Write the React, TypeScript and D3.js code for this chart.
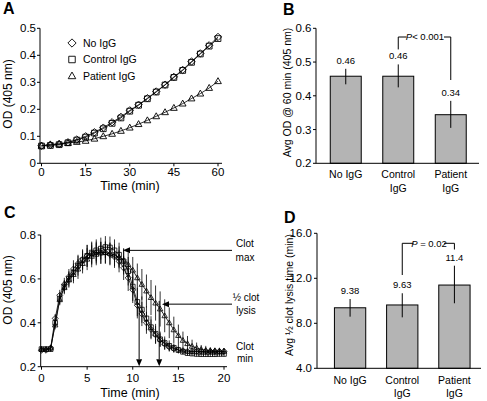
import React from "react";
import * as d3 from "d3";

// ---------- Panel A data ----------
const timeA = [0, 3, 6, 9, 12, 15, 18, 21, 24, 27, 30, 33, 36, 39, 42, 45, 48, 51, 54, 57, 60];
const noIgGA = [0.065, 0.068, 0.071, 0.078, 0.088, 0.1, 0.115, 0.132, 0.152, 0.172, 0.196, 0.217, 0.241, 0.266, 0.291, 0.32, 0.346, 0.377, 0.407, 0.437, 0.468];
const controlA = [0.064, 0.066, 0.069, 0.076, 0.086, 0.097, 0.112, 0.128, 0.148, 0.168, 0.193, 0.215, 0.239, 0.264, 0.29, 0.318, 0.344, 0.374, 0.405, 0.434, 0.462];
const patientA = [0.065, 0.07, 0.072, 0.075, 0.079, 0.083, 0.091, 0.1, 0.109, 0.12, 0.132, 0.145, 0.159, 0.174, 0.189, 0.205, 0.221, 0.24, 0.258, 0.279, 0.304];
const xTicksA = [0, 15, 30, 45, 60];
const yTicksA = [0, 0.1, 0.2, 0.3, 0.4, 0.5];
const legendA = ["No IgG", "Control IgG", "Patient IgG"];

// ---------- Panel B data ----------
const groups = ["No IgG", "Control IgG", "Patient IgG"];
const groupLines = [["No IgG"], ["Control", "IgG"], ["Patient", "IgG"]];
const odB = [0.458, 0.458, 0.344];
const odBLow = [0.434, 0.425, 0.305];
const odBHigh = [0.48, 0.493, 0.385];
const odBLabels = ["0.46", "0.46", "0.34"];
const yTicksB = [0.2, 0.3, 0.4, 0.5, 0.6];

// ---------- Panel C data ----------
const timeC = [0, 0.5, 1, 1.5, 2, 2.5, 3, 3.5, 4, 4.5, 5, 5.5, 6, 6.5, 7, 7.5, 8, 8.5, 9, 9.5, 10, 10.5, 11, 11.5, 12, 12.5, 13, 13.5, 14, 14.5, 15, 15.5, 16, 16.5, 17, 17.5, 18, 18.5, 19, 19.5, 20];
const noIgGC = [0.275, 0.275, 0.285, 0.42, 0.525, 0.575, 0.61, 0.645, 0.67, 0.69, 0.705, 0.715, 0.72, 0.72, 0.72, 0.712, 0.7, 0.68, 0.65, 0.605, 0.55, 0.48, 0.44, 0.4, 0.37, 0.345, 0.322, 0.303, 0.29, 0.282, 0.277, 0.273, 0.27, 0.27, 0.27, 0.27, 0.27, 0.27, 0.27, 0.27, 0.27];
const controlC = [0.28, 0.28, 0.28, 0.4, 0.51, 0.565, 0.6, 0.63, 0.66, 0.685, 0.705, 0.72, 0.73, 0.738, 0.745, 0.743, 0.73, 0.71, 0.68, 0.635, 0.565, 0.495, 0.46, 0.42, 0.38, 0.35, 0.325, 0.308, 0.295, 0.286, 0.276, 0.268, 0.262, 0.26, 0.258, 0.257, 0.257, 0.257, 0.257, 0.258, 0.258];
const patientC = [0.28, 0.28, 0.285, 0.39, 0.505, 0.56, 0.595, 0.62, 0.645, 0.67, 0.69, 0.703, 0.712, 0.718, 0.72, 0.716, 0.708, 0.698, 0.685, 0.665, 0.64, 0.605, 0.575, 0.545, 0.515, 0.49, 0.463, 0.432, 0.4, 0.368, 0.342, 0.32, 0.305, 0.293, 0.285, 0.279, 0.275, 0.273, 0.272, 0.271, 0.27];
const errNoC = [0.01, 0.01, 0.012, 0.02, 0.025, 0.03, 0.035, 0.04, 0.04, 0.045, 0.05, 0.05, 0.05, 0.05, 0.05, 0.05, 0.05, 0.05, 0.055, 0.06, 0.06, 0.06, 0.055, 0.05, 0.045, 0.04, 0.03, 0.025, 0.02, 0.018, 0.015, 0.012, 0.012, 0.012, 0.012, 0.012, 0.012, 0.012, 0.012, 0.012, 0.012];
const errCtrlC = [0.01, 0.01, 0.012, 0.02, 0.025, 0.03, 0.035, 0.04, 0.045, 0.045, 0.05, 0.05, 0.05, 0.05, 0.05, 0.05, 0.05, 0.055, 0.06, 0.065, 0.065, 0.065, 0.06, 0.055, 0.05, 0.045, 0.035, 0.03, 0.025, 0.02, 0.015, 0.012, 0.012, 0.012, 0.012, 0.012, 0.012, 0.012, 0.012, 0.012, 0.012];
const errPatC = [0.01, 0.01, 0.012, 0.02, 0.025, 0.03, 0.035, 0.04, 0.045, 0.045, 0.05, 0.05, 0.05, 0.05, 0.05, 0.05, 0.05, 0.05, 0.05, 0.055, 0.06, 0.065, 0.07, 0.075, 0.08, 0.08, 0.08, 0.075, 0.07, 0.06, 0.05, 0.04, 0.035, 0.03, 0.025, 0.02, 0.02, 0.015, 0.015, 0.015, 0.015];
const xTicksC = [0, 5, 10, 15, 20];
const yTicksC = [0.2, 0.4, 0.6, 0.8];
const clotMaxOD = 0.73;
const halfLysisOD = 0.485;
const halfLysisTimes = [10.7, 12.9];
const halfLysisStartOD = [0.47, 0.5];

// ---------- Panel D data ----------
const lysisD = [9.38, 9.63, 11.4];
const lysisDLow = [8.59, 8.53, 9.78];
const lysisDHigh = [10.16, 10.67, 13.12];
const lysisDLabels = ["9.38", "9.63", "11.4"];
const yTicksD = [4, 8, 12, 16];

const FONT = "'Liberation Sans', Arial, Helvetica, sans-serif";
const BAR_FILL = "#b4b4b4";

type Shape = "diamond" | "square" | "triangle";
const shapes: Shape[] = ["diamond", "square", "triangle"];

function Marker({ shape, x, y, s, w = 0.9 }: { shape: Shape; x: number; y: number; s: number; w?: number }) {
  let d = "";
  if (shape === "diamond") d = `M${x},${y - s * 1.15}L${x + s * 1.15},${y}L${x},${y + s * 1.15}L${x - s * 1.15},${y}Z`;
  else if (shape === "square") d = `M${x - s * 0.9},${y - s * 0.9}h${s * 1.8}v${s * 1.8}h${-s * 1.8}Z`;
  else d = `M${x},${y - s * 1.1}L${x + s * 1.05},${y + s * 0.75}L${x - s * 1.05},${y + s * 0.75}Z`;
  return <path d={d} fill="none" stroke="#000" strokeWidth={w} />;
}

function Arrow({ x1, y1, x2, y2 }: { x1: number; y1: number; x2: number; y2: number }) {
  const ang = Math.atan2(y2 - y1, x2 - x1);
  const L = 7, Wd = 3;
  const bx = x2 - L * Math.cos(ang), by = y2 - L * Math.sin(ang);
  const px = -Math.sin(ang) * Wd, py = Math.cos(ang) * Wd;
  return (
    <g>
      <line x1={x1} y1={y1} x2={bx} y2={by} stroke="#000" strokeWidth={1} />
      <path d={`M${x2},${y2}L${bx + px},${by + py}L${bx - px},${by - py}Z`} fill="#000" />
    </g>
  );
}

export default function App() {
  // Panel A scales
  const xA = d3.scaleLinear().domain([0, 60]).range([41.5, 218]);
  const yA = d3.scaleLinear().domain([0, 0.5]).range([163.3, 28.3]);
  const seriesA = [noIgGA, controlA, patientA];
  const lineA = (vals: number[]) =>
    d3.line<number>().x((_, i) => xA(timeA[i])).y((v) => yA(v))(vals) || "";

  // Panel B
  const xB = d3.scaleBand<string>().domain(groups).range([319.5, 477]).paddingInner(0.41).paddingOuter(0.205);
  const yB = d3.scaleLinear().domain([0.2, 0.6]).range([163.3, 28.3]);

  // Panel C
  const xC = d3.scaleLinear().domain([0, 20]).range([41.5, 224]);
  const yC = d3.scaleLinear().domain([0.2, 0.8]).range([366.7, 235]);
  const seriesC = [noIgGC, controlC, patientC];
  const errsC = [errNoC, errCtrlC, errPatC];
  const lineC = (vals: number[]) =>
    d3.line<number>().x((_, i) => xC(timeC[i])).y((v) => yC(v))(vals) || "";

  // Panel D
  const xD = d3.scaleBand<string>().domain(groups).range([324, 480.5]).paddingInner(0.4).paddingOuter(0.2);
  const yD = d3.scaleLinear().domain([4, 16]).range([368.3, 233.3]);

  const tickFs = 11.5;
  const cx = (sc: d3.ScaleBand<string>, g: string) => (sc(g) as number) + sc.bandwidth() / 2;

  return (
    <svg width={487} height={401} style={{ position: "absolute", left: 0, top: 0, background: "#fff" }} fontFamily={FONT}>
      <rect x={0} y={0} width={487} height={401} fill="#fff" />
      {/* ================= Panel A ================= */}
      <text x={3} y={14} fontSize={16} fontWeight="bold">A</text>
      <line x1={40} y1={yA(0.5)} x2={40} y2={yA(0)} stroke="#000" />
      <line x1={40} y1={yA(0)} x2={222} y2={yA(0)} stroke="#000" />
      {yTicksA.map((t) => (
        <g key={"ya" + t}>
          <line x1={37} x2={40} y1={yA(t)} y2={yA(t)} stroke="#000" />
          <text x={36} y={yA(t)} dy="0.35em" textAnchor="end" fontSize={tickFs}>{t === 0 ? "0" : t.toFixed(1)}</text>
        </g>
      ))}
      {xTicksA.map((t) => (
        <g key={"xa" + t}>
          <line x1={xA(t)} x2={xA(t)} y1={yA(0)} y2={yA(0) + 3} stroke="#000" />
          <text x={xA(t)} y={175.5} textAnchor="middle" fontSize={tickFs}>{t}</text>
        </g>
      ))}
      <text x={130} y={189.5} textAnchor="middle" fontSize={12.5}>Time (min)</text>
      <text transform={`translate(12,94) rotate(-90)`} textAnchor="middle" fontSize={12}>OD (405 nm)</text>
      {seriesA.map((s, k) => (
        <path key={"la" + k} d={lineA(s)} fill="none" stroke="#000" strokeWidth={0.8} />
      ))}
      {seriesA.map((s, k) =>
        s.map((v, i) => <Marker key={"ma" + k + "_" + i} shape={shapes[k]} x={xA(timeA[i])} y={yA(v)} s={3.2} />)
      )}
      {legendA.map((l, k) => (
        <g key={"lg" + l}>
          <Marker shape={shapes[k]} x={72} y={43 + k * 16.5} s={3.6} />
          <text x={83} y={43 + k * 16.5} dy="0.35em" fontSize={10.5}>{l}</text>
        </g>
      ))}

      {/* ================= Panel B ================= */}
      <text x={283} y={15} fontSize={16} fontWeight="bold">B</text>
      {groups.map((g, i) => (
        <g key={"bb" + g}>
          <rect x={xB(g)} y={yB(odB[i])} width={xB.bandwidth()} height={yB(0.2) - yB(odB[i])} fill={BAR_FILL} stroke="#000" strokeWidth={1} />
          <line x1={cx(xB, g)} x2={cx(xB, g)} y1={yB(odBLow[i])} y2={yB(odBHigh[i])} stroke="#000" strokeWidth={1} />
          <text x={cx(xB, g)} y={yB(odBHigh[i]) - 5} textAnchor="middle" fontSize={9.5}>{odBLabels[i]}</text>
          {groupLines[i].map((ln, j) => (
            <text key={ln} x={cx(xB, g)} y={178 + j * 14} textAnchor="middle" fontSize={10.5}>{ln}</text>
          ))}
        </g>
      ))}
      <line x1={316} y1={yB(0.6)} x2={316} y2={yB(0.2)} stroke="#000" />
      <line x1={316} y1={yB(0.2)} x2={479} y2={yB(0.2)} stroke="#000" />
      {yTicksB.map((t) => (
        <g key={"yb" + t}>
          <line x1={313} x2={316} y1={yB(t)} y2={yB(t)} stroke="#000" />
          <text x={311.5} y={yB(t)} dy="0.35em" textAnchor="end" fontSize={tickFs}>{t.toFixed(1)}</text>
        </g>
      ))}
      <text transform={`translate(291,92.5) rotate(-90)`} textAnchor="middle" fontSize={10.5}>Avg OD @ 60 min (405 nm)</text>
      <g stroke="#000" strokeWidth={1} fill="none">
        <polyline points={`${cx(xB, groups[1])},${yB(odBHigh[1]) - 15} ${cx(xB, groups[1])},37 406.5,37`} />
        <polyline points={`444,37 ${cx(xB, groups[2])},37 ${cx(xB, groups[2])},80`} />
      </g>
      <text x={425} y={37} dy="0.35em" textAnchor="middle" fontSize={9.5}>
        <tspan fontStyle="italic">P</tspan>
        <tspan>{"< 0.001"}</tspan>
      </text>

      {/* ================= Panel C ================= */}
      <text x={4} y={218} fontSize={16} fontWeight="bold">C</text>
      <line x1={40.7} y1={yC(0.8)} x2={40.7} y2={yC(0.2)} stroke="#000" />
      <line x1={40.7} y1={yC(0.2)} x2={227} y2={yC(0.2)} stroke="#000" />
      {yTicksC.map((t) => (
        <g key={"yc" + t}>
          <line x1={37.7} x2={40.7} y1={yC(t)} y2={yC(t)} stroke="#000" />
          <text x={36} y={yC(t)} dy="0.35em" textAnchor="end" fontSize={tickFs}>{t.toFixed(1)}</text>
        </g>
      ))}
      {xTicksC.map((t) => (
        <g key={"xc" + t}>
          <line x1={xC(t)} x2={xC(t)} y1={yC(0.2)} y2={yC(0.2) + 3} stroke="#000" />
          <text x={xC(t)} y={382} textAnchor="middle" fontSize={tickFs}>{t}</text>
        </g>
      ))}
      <text x={130} y={397} textAnchor="middle" fontSize={12.5}>Time (min)</text>
      <text transform={`translate(12,290) rotate(-90)`} textAnchor="middle" fontSize={12}>OD (405 nm)</text>
      {seriesC.map((s, k) =>
        s.map((v, i) => (
          <line key={"ec" + k + "_" + i} x1={xC(timeC[i])} x2={xC(timeC[i])} y1={yC(v - errsC[k][i])} y2={yC(v + errsC[k][i])} stroke="#000" strokeWidth={0.8} />
        ))
      )}
      {seriesC.map((s, k) => (
        <path key={"lc" + k} d={lineC(s)} fill="none" stroke="#000" strokeWidth={0.8} />
      ))}
      {seriesC.map((s, k) =>
        s.map((v, i) => <Marker key={"mc" + k + "_" + i} shape={shapes[k]} x={xC(timeC[i])} y={yC(v)} s={2.6} w={0.8} />)
      )}
      <Arrow x1={232} y1={yC(clotMaxOD)} x2={123} y2={yC(clotMaxOD)} />
      <Arrow x1={232} y1={yC(halfLysisOD)} x2={162} y2={yC(halfLysisOD)} />
      {halfLysisTimes.map((t, i) => (
        <Arrow key={"va" + i} x1={xC(t)} y1={yC(halfLysisStartOD[i])} x2={xC(t)} y2={yC(0.2) - 0.5} />
      ))}
      <g fontSize={10} textAnchor="middle">
        <text x={245} y={247}>Clot</text>
        <text x={245} y={261}>max</text>
        <text x={246} y={301}>½ clot</text>
        <text x={246} y={314}>lysis</text>
        <text x={245} y={350}>Clot</text>
        <text x={245} y={362}>min</text>
      </g>

      {/* ================= Panel D ================= */}
      <text x={284} y={223} fontSize={16} fontWeight="bold">D</text>
      {groups.map((g, i) => (
        <g key={"db" + g}>
          <rect x={xD(g)} y={yD(lysisD[i])} width={xD.bandwidth()} height={yD(4) - yD(lysisD[i])} fill={BAR_FILL} stroke="#000" strokeWidth={1} />
          <line x1={cx(xD, g)} x2={cx(xD, g)} y1={yD(lysisDLow[i])} y2={yD(lysisDHigh[i])} stroke="#000" strokeWidth={1} />
          <text x={cx(xD, g)} y={yD(lysisDHigh[i]) - 5} textAnchor="middle" fontSize={9.5}>{lysisDLabels[i]}</text>
          {groupLines[i].map((ln, j) => (
            <text key={ln} x={cx(xD, g)} y={384 + j * 13} textAnchor="middle" fontSize={10.5}>{ln}</text>
          ))}
        </g>
      ))}
      <line x1={317} y1={yD(16)} x2={317} y2={yD(4)} stroke="#000" />
      <line x1={317} y1={yD(4)} x2={481} y2={yD(4)} stroke="#000" />
      {yTicksD.map((t) => (
        <g key={"yd" + t}>
          <line x1={314} x2={317} y1={yD(t)} y2={yD(t)} stroke="#000" />
          <text x={312} y={yD(t)} dy="0.35em" textAnchor="end" fontSize={tickFs}>{t.toFixed(1)}</text>
        </g>
      ))}
      <text transform={`translate(293,295) rotate(-90)`} textAnchor="middle" fontSize={10.5}>Avg ½ clot lysis time (min)</text>
      <g stroke="#000" strokeWidth={1} fill="none">
        <polyline points={`${cx(xD, groups[1])},275 ${cx(xD, groups[1])},243.3 413.5,243.3`} />
        <polyline points={`444,243.3 ${cx(xD, groups[2])},243.3 ${cx(xD, groups[2])},249.5`} />
      </g>
      <text x={429} y={243.3} dy="0.35em" textAnchor="middle" fontSize={9.5}>
        <tspan fontStyle="italic">P</tspan>
        <tspan>{" = 0.02"}</tspan>
      </text>
    </svg>
  );
}
